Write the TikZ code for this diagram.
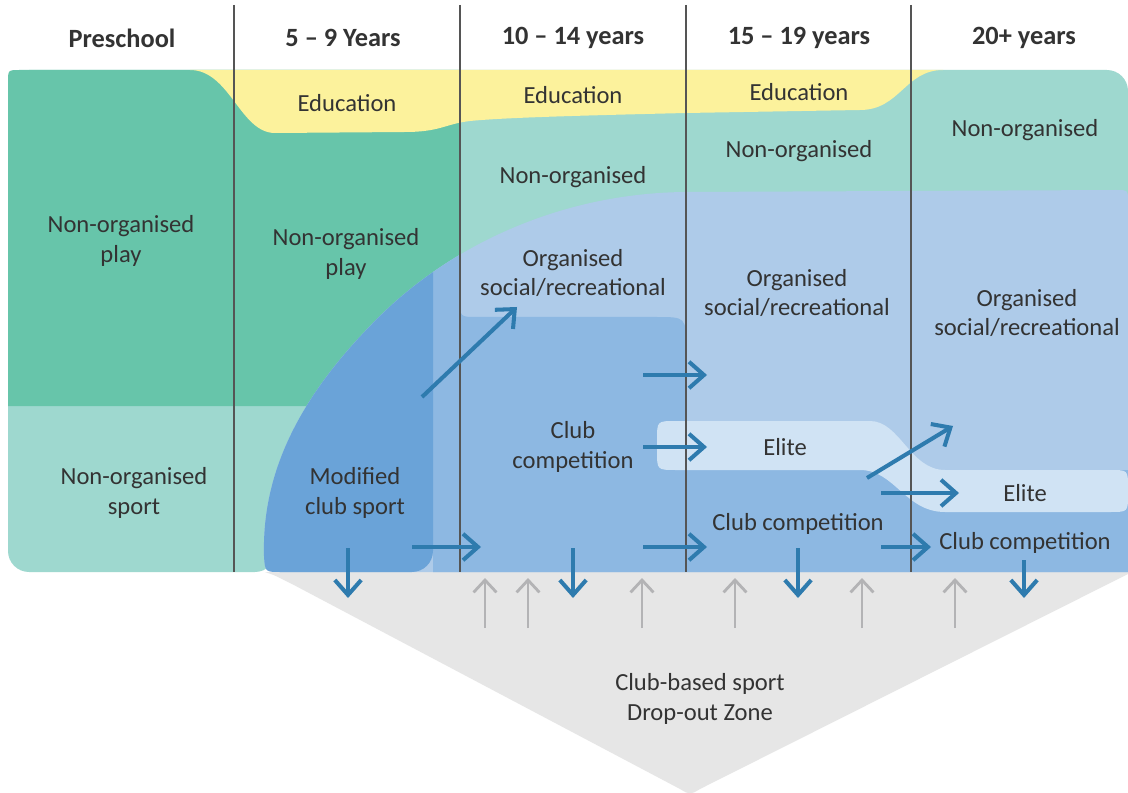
\documentclass[tikz,border=0pt]{standalone}
\usepackage{fontspec}
\setmainfont{Carlito}
\usetikzlibrary{arrows.meta}
\definecolor{cGreen}{HTML}{67C5AA}
\definecolor{cTeal}{HTML}{9ED8CF}
\definecolor{cYellow}{HTML}{FCF29C}
\definecolor{cLBlue}{HTML}{AECBE9}
\definecolor{cMBlue}{HTML}{8DB8E2}
\definecolor{cDBlue}{HTML}{6AA3D8}
\definecolor{cElite}{HTML}{D0E3F4}
\definecolor{cGrayZ}{HTML}{E6E6E6}
\definecolor{cArrow}{HTML}{2E7BAE}
\definecolor{cArrowG}{HTML}{B3B3B5}
\definecolor{cTxt}{HTML}{333333}
\definecolor{cLine}{HTML}{555555}
\begin{document}
\begin{tikzpicture}[x=0.02cm,y=-0.02cm,
  lbl/.style={font=\fontsize{14}{17}\selectfont, text=cTxt, align=center, inner sep=0pt},
  hdr/.style={font=\fontsize{15}{18}\selectfont\bfseries, text=cTxt, inner sep=0pt},
  flow/.style={draw=cArrow, line width=2.3pt, -{Straight Barb[length=8.5pt,width=15pt]}},
  dropflow/.style={draw=cArrowG, line width=1.6pt, -{Straight Barb[length=7pt,width=13pt]}},
  sepline/.style={draw=cLine, line width=0.8pt}]
\useasboundingbox[fill=white] (0,0) rectangle (1128,793);

% drop-out zone
\fill[cGrayZ] (265,572) -- (1128,572) -- (1128,574) -- (700,789) .. controls (690,795) .. (680,789) -- (292,584) .. controls (272,574) .. (265,572) -- cycle;

% base teal areas
\fill[cTeal, rounded corners=12] (8,70) rectangle (1128,520);
\fill[cTeal, rounded corners=12] (8,300) rectangle (276,572);

% dark green non-organised play
\fill[cGreen] (8,406) -- (8,82) .. controls (8,70) .. (20,70) -- (460,70) -- (460,406) -- cycle;

% yellow education
\fill[cYellow] (190,70) -- (943,70) .. controls (905,70) and (900,110) .. (860,110) -- (686,113) .. controls (560,116) and (500,118) .. (470,121) .. controls (445,124) and (440,132) .. (405,132) -- (275,133) .. controls (240,133) and (230,70) .. (190,70) -- cycle;

% light blue organised
\def\Lpath{(282,572) .. controls (265,572) .. (264,556) .. controls (262,480) and (292,402) .. (382,314) .. controls (452,246) and (560,193) .. (686,192) -- (1116,190) .. controls (1128,190) .. (1128,202) -- (1128,572) -- cycle}
\fill[cLBlue] \Lpath;
\begin{scope}
  \clip \Lpath;
  \fill[cMBlue] (433,150) -- (460,150) -- (460,300) .. controls (460,317) .. (477,317) -- (656,317) .. controls (686,317) .. (686,347) -- (686,470) -- (1140,470) -- (1140,600) -- (433,600) -- cycle;
  \fill[cDBlue, rounded corners=12] (200,150) -- (433,150) -- (433,572) -- (200,572) -- cycle;
\end{scope}

% elite ribbon
\fill[cElite] (676,421) -- (870,421) .. controls (900,421) and (910,470) .. (945,470) -- (1110,470) .. controls (1128,470) .. (1128,488) -- (1128,494) .. controls (1128,512) .. (1110,512) -- (945,512) .. controls (905,512) and (895,470) .. (860,470) -- (676,470) .. controls (657,470) .. (657,451) -- (657,440) .. controls (657,421) .. (676,421) -- cycle;

% column separators
\foreach \xx in {234,460,686,911} \draw[sepline] (\xx,5) -- (\xx,572);

% headers
\node[hdr] (h1) at (122,38) {Preschool};
\node[hdr] (h2) at (343,38) {5 – 9 Years};
\node[hdr] (h3) at (573,38) {10 – 14 years};
\node[hdr] (h4) at (799,38) {15 – 19 years};
\node[hdr] (h5) at (1024,38) {20+ years};

% labels
\node[lbl] (ed2) at (347,103) {Education};
\node[lbl] (ed3) at (573,95) {Education};
\node[lbl] (ed4) at (799,92) {Education};
\node[lbl] (np1) at (121,241) {Non-organised\\play};
\node[lbl] (np2) at (346,254) {Non-organised\\play};
\node[lbl] (ns1) at (134,493) {Non-organised\\sport};
\node[lbl] (no3) at (573,177) {Non-organised};
\node[lbl] (no4) at (799,151) {Non-organised};
\node[lbl] (no5) at (1025,130) {Non-organised};
\node[lbl] (or3) at (573,273) {Organised\\social/recreational};
\node[lbl] (or4) at (797,293) {Organised\\social/recreational};
\node[lbl] (or5) at (1027,313) {Organised\\social/recreational};
\node[lbl] (mcs) at (355,493) {Modified\\club sport};
\node[lbl] (cc3) at (573,447) {Club\\competition};
\node[lbl] (el4) at (785,447) {Elite};
\node[lbl] (el5) at (1025,493) {Elite};
\node[lbl] (cc4) at (798,524) {Club competition};
\node[lbl] (cc5) at (1025,543) {Club competition};
\node[lbl] (dz) at (700,699) {Club-based sport\\Drop-out Zone};

% arrow end points
\coordinate (a1s) at (422,397); \coordinate (a1e) at (517,307);
\coordinate (a2s) at (643,375); \coordinate (a2e) at (707,375);
\coordinate (a3s) at (643,447); \coordinate (a3e) at (707,447);
\coordinate (a4s) at (643,547); \coordinate (a4e) at (707,547);
\coordinate (a5s) at (412,547); \coordinate (a5e) at (481,547);
\coordinate (a6s) at (348,548); \coordinate (a6e) at (348,598);
\coordinate (a7s) at (573,548); \coordinate (a7e) at (573,598);
\coordinate (a8s) at (798,548); \coordinate (a8e) at (798,598);
\coordinate (a9s) at (1024,560); \coordinate (a9e) at (1024,598);
\coordinate (a10s) at (867,478); \coordinate (a10e) at (953,426);
\coordinate (a11s) at (881,493); \coordinate (a11e) at (959,493);
\coordinate (a12s) at (881,547); \coordinate (a12e) at (931,547);

\foreach \i in {1,...,12} \draw[flow] (a\i s) -- (a\i e);

% grey drop-out arrows
\foreach \xx [count=\k] in {485,528,642,735,862,955} {
  \coordinate (g\k s) at (\xx,628);
  \coordinate (g\k e) at (\xx,578);
  \draw[dropflow] (g\k s) -- (g\k e);
}
\end{tikzpicture}
\end{document}
